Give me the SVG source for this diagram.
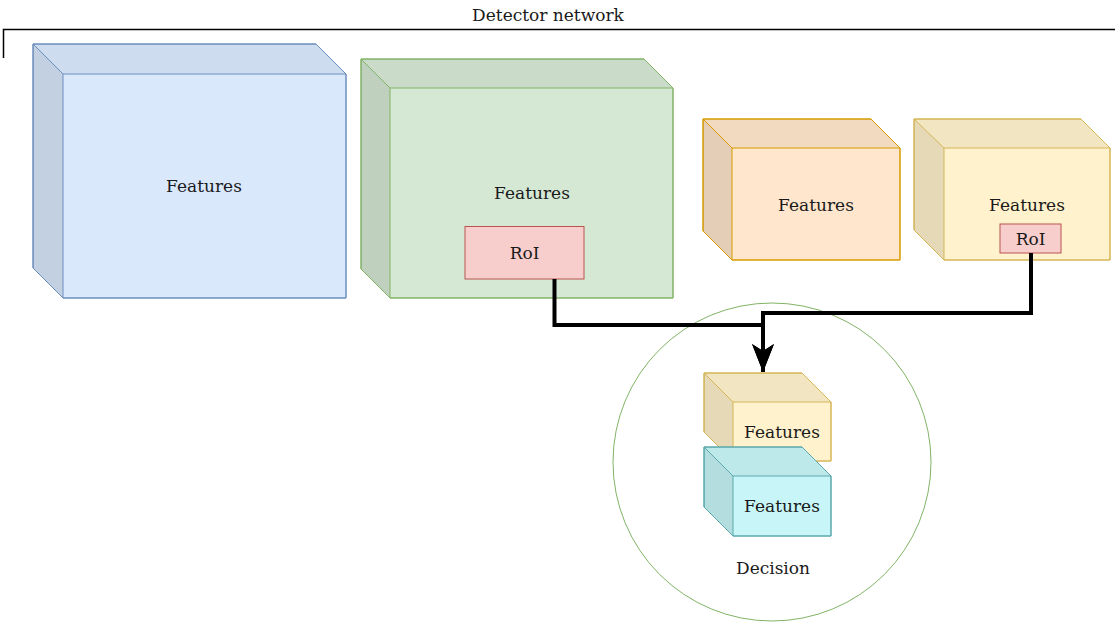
<svg xmlns="http://www.w3.org/2000/svg" width="1115" height="622" viewBox="0 0 1115 622">
<defs>
<style>
text{font-family:"DejaVu Serif","Liberation Serif",serif;font-size:17px;fill:#1a1a1a;text-anchor:middle;dominant-baseline:central}
.conn{fill:none;stroke:#000;stroke-width:4}
.shade1{fill:#000;fill-opacity:0.05}
.shade2{fill:#000;fill-opacity:0.1}
</style>
<marker id="arr" markerUnits="userSpaceOnUse" markerWidth="28" markerHeight="24" refX="28" refY="12" orient="auto" viewBox="0 0 28 24">
<path d="M0,1 L7,12 L0,23 L28,12 Z" fill="#000"/>
</marker>
</defs>
<rect width="1115" height="622" fill="#fff"/>
<g id="detector-bracket">
<path d="M3.5,58 V29.5 H1115" fill="none" stroke="#000" stroke-width="1.5"/>
<text x="548" y="15">Detector network</text>
</g>
<g id="decision">
<circle cx="772" cy="462" r="159" fill="none" stroke="#82b366" stroke-width="1"/>
<text x="773" y="568">Decision</text>
</g>
<g id="cube-blue" stroke="#6c8ebf" stroke-width="1">
<path d="M33,44 H316 L346,74 V298 H63 L33,268 Z" fill="#dae8fc"/>
<path d="M33,44 H316 L346,74 H63 Z" class="shade1" stroke="none"/>
<path d="M33,44 L63,74 V298 L33,268 Z" class="shade2" stroke="none"/>
<path d="M33,44 H316 L346,74 V298 H63 L33,268 Z M33,44 L63,74 H346 M63,74 V298" fill="none"/>
<text x="204" y="186" stroke="none">Features</text>
</g>
<g id="cube-green" stroke="#82b366" stroke-width="1">
<path d="M361,59 H644 L673,88 V298 H390 L361,269 Z" fill="#d5e8d4"/>
<path d="M361,59 H644 L673,88 H390 Z" class="shade1" stroke="none"/>
<path d="M361,59 L390,88 V298 L361,269 Z" class="shade2" stroke="none"/>
<path d="M361,59 H644 L673,88 V298 H390 L361,269 Z M361,59 L390,88 H673 M390,88 V298" fill="none"/>
<text x="532" y="193" stroke="none">Features</text>
</g>
<g id="roi-green">
<rect x="465" y="226.5" width="119" height="52.5" fill="#f8cecc" stroke="#b85450" stroke-width="1"/>
<text x="524.5" y="253">RoI</text>
</g>
<g id="cube-orange" stroke="#d79b00" stroke-width="1">
<path d="M703,119 H871 L900,148 V260 H732 L703,231 Z" fill="#ffe6cc"/>
<path d="M703,119 H871 L900,148 H732 Z" class="shade1" stroke="none"/>
<path d="M703,119 L732,148 V260 L703,231 Z" class="shade2" stroke="none"/>
<path d="M703,119 H871 L900,148 V260 H732 L703,231 Z M703,119 L732,148 H900 M732,148 V260" fill="none"/>
<text x="816" y="205" stroke="none">Features</text>
</g>
<g id="cube-yellow" stroke="#d6b656" stroke-width="1">
<path d="M914,119 H1081 L1110,148 V260 H944 L914,230 Z" fill="#fff2cc"/>
<path d="M914,119 H1081 L1110,148 H944 Z" class="shade1" stroke="none"/>
<path d="M914,119 L944,148 V260 L914,230 Z" class="shade2" stroke="none"/>
<path d="M914,119 H1081 L1110,148 V260 H944 L914,230 Z M914,119 L944,148 H1110 M944,148 V260" fill="none"/>
<text x="1027" y="205" stroke="none">Features</text>
</g>
<g id="roi-yellow">
<rect x="1000" y="224" width="61" height="29" fill="#f8cecc" stroke="#b85450" stroke-width="1"/>
<text x="1030.5" y="239">RoI</text>
</g>
<g id="cube-decision-yellow" stroke="#d6b656" stroke-width="1">
<path d="M704,373 H802 L831,402 V461 H733 L704,432 Z" fill="#fff2cc"/>
<path d="M704,373 H802 L831,402 H733 Z" class="shade1" stroke="none"/>
<path d="M704,373 L733,402 V461 L704,432 Z" class="shade2" stroke="none"/>
<path d="M704,373 H802 L831,402 V461 H733 L704,432 Z M704,373 L733,402 H831 M733,402 V461" fill="none"/>
<text x="782" y="432" stroke="none">Features</text>
</g>
<g id="cube-decision-cyan" stroke="#5aa9ab" stroke-width="1">
<path d="M704,447 H802 L831,476 V536 H733 L704,507 Z" fill="#c8f6f8"/>
<path d="M704,447 H802 L831,476 H733 Z" class="shade1" stroke="none"/>
<path d="M704,447 L733,476 V536 L704,507 Z" class="shade2" stroke="none"/>
<path d="M704,447 H802 L831,476 V536 H733 L704,507 Z M704,447 L733,476 H831 M733,476 V536" fill="none"/>
<text x="782" y="506" stroke="none">Features</text>
</g>
<g id="connectors">
<path class="conn" d="M554.5,279 V325 H763 V372" marker-end="url(#arr)"/>
<path class="conn" d="M1031,253 V313 H763 V372" marker-end="url(#arr)"/>
</g>
</svg>
